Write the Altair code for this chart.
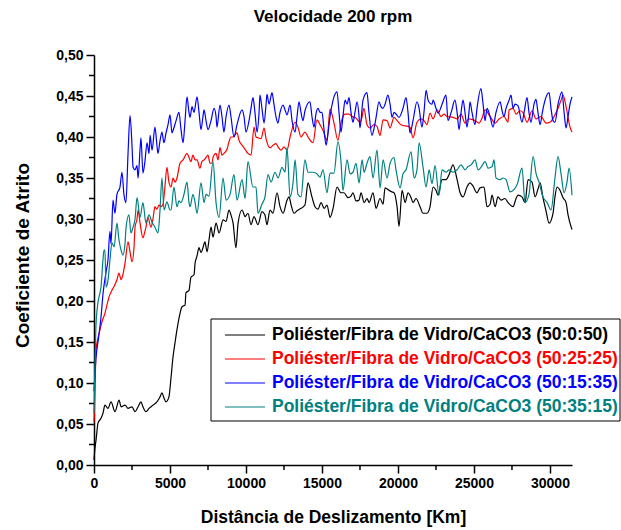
import altair as alt
import pandas as pd

FONT = "Liberation Sans"

title_text = "Velocidade 200 rpm"
x_title = "Distância de Deslizamento [Km]"
y_title = "Coeficiente de Atrito"

series_names = [
    "Poliéster/Fibra de Vidro/CaCO3 (50:0:50)",
    "Poliéster/Fibra de Vidro/CaCO3 (50:25:25)",
    "Poliéster/Fibra de Vidro/CaCO3 (50:15:35)",
    "Poliéster/Fibra de Vidro/CaCO3 (50:35:15)",
]
series_colors = ["#000000", "#ff0000", "#0000ff", "#008080"]

x_ticks = [0, 5000, 10000, 15000, 20000, 25000, 30000]
x_minor = [2500, 7500, 12500, 17500, 22500, 27500]
y_ticks = [0.0, 0.05, 0.10, 0.15, 0.20, 0.25, 0.30, 0.35, 0.40, 0.45, 0.50]
y_minor = [0.025, 0.075, 0.125, 0.175, 0.225, 0.275, 0.325, 0.375, 0.425, 0.475]

black_pts = [
    (0, 0.006), (66, 0.021), (132, 0.03), (263, 0.051), (461, 0.057), (590, 0.063), (720, 0.073),
    (920, 0.069), (1120, 0.077), (1380, 0.065), (1650, 0.079), (1780, 0.071), (2040, 0.073),
    (2240, 0.069), (2500, 0.071), (2700, 0.065), (2900, 0.071), (3090, 0.077), (3220, 0.071),
    (3420, 0.065), (3620, 0.069), (3880, 0.073), (4140, 0.077), (4340, 0.083), (4470, 0.088),
    (4600, 0.082), (4740, 0.077), (4930, 0.083), (5070, 0.107), (5200, 0.132), (5330, 0.149),
    (5460, 0.165), (5660, 0.185), (5790, 0.193), (5990, 0.195), (6050, 0.21), (6250, 0.213),
    (6380, 0.229), (6580, 0.232), (6650, 0.246), (6780, 0.255), (6910, 0.265), (7040, 0.259),
    (7170, 0.265), (7300, 0.272), (7440, 0.26), (7570, 0.275), (7700, 0.29), (7830, 0.278),
    (8030, 0.295), (8230, 0.283), (8490, 0.299), (8690, 0.297), (8880, 0.311), (9010, 0.305),
    (9150, 0.295), (9340, 0.265), (9480, 0.295), (9740, 0.311), (9940, 0.303), (10130, 0.307),
    (10330, 0.293), (10530, 0.303), (10790, 0.293), (11050, 0.309), (11250, 0.305), (11380, 0.293),
    (11580, 0.311), (11780, 0.307), (12040, 0.332), (12240, 0.315), (12440, 0.307), (12700, 0.323),
    (12830, 0.327), (12970, 0.317), (13160, 0.307), (13360, 0.31), (13620, 0.313), (13880, 0.317),
    (14080, 0.344), (14340, 0.327), (14540, 0.315), (14740, 0.312), (14940, 0.32), (15140, 0.313),
    (15330, 0.317), (15530, 0.302), (15730, 0.313), (15990, 0.339), (16250, 0.332), (16450, 0.332),
    (16710, 0.326), (16910, 0.328), (17040, 0.332), (17240, 0.322), (17440, 0.323), (17570, 0.332),
    (17770, 0.32), (17970, 0.325), (18100, 0.32), (18360, 0.332), (18560, 0.313), (18820, 0.325),
    (19020, 0.318), (19150, 0.338), (19410, 0.335), (19610, 0.333), (19740, 0.332), (19940, 0.315),
    (20070, 0.291), (20270, 0.335), (20470, 0.32), (20660, 0.332), (20860, 0.326), (20990, 0.32),
    (21190, 0.325), (21450, 0.315), (21650, 0.307), (21910, 0.307), (22110, 0.315), (22310, 0.339),
    (22500, 0.335), (22640, 0.329), (22900, 0.348), (23160, 0.348), (23360, 0.354), (23620, 0.366),
    (23890, 0.348), (24090, 0.332), (24280, 0.327), (24540, 0.339), (24740, 0.344), (24940, 0.34),
    (25200, 0.332), (25400, 0.338), (25660, 0.339), (25860, 0.315), (26060, 0.318), (26190, 0.329),
    (26390, 0.315), (26580, 0.327), (26780, 0.323), (27040, 0.325), (27240, 0.32), (27570, 0.315),
    (27770, 0.325), (27900, 0.329), (28160, 0.327), (28360, 0.32), (28560, 0.348), (28820, 0.345),
    (29020, 0.327), (29220, 0.337), (29350, 0.344), (29540, 0.326), (29740, 0.31), (29940, 0.295),
    (30200, 0.307), (30330, 0.327), (30470, 0.339), (30660, 0.335), (30860, 0.326), (31060, 0.32),
    (31190, 0.305), (31450, 0.287),
]

red_pts = [
    (0, 0.052), (66, 0.09), (132, 0.14), (263, 0.155), (395, 0.165), (530, 0.175), (720, 0.185),
    (850, 0.195), (990, 0.205), (1180, 0.213), (1380, 0.22), (1510, 0.226), (1640, 0.234),
    (1780, 0.226), (1900, 0.232), (2040, 0.246), (2240, 0.272), (2370, 0.26), (2500, 0.248),
    (2630, 0.265), (2700, 0.29), (2830, 0.3), (2900, 0.311), (3030, 0.295), (3220, 0.277),
    (3350, 0.285), (3420, 0.29), (3550, 0.302), (3750, 0.29), (3880, 0.3), (4010, 0.315),
    (4140, 0.312), (4280, 0.317), (4400, 0.315), (4540, 0.318), (4670, 0.34), (4800, 0.363),
    (4930, 0.345), (5070, 0.339), (5200, 0.35), (5330, 0.345), (5460, 0.35), (5660, 0.368),
    (5860, 0.372), (6120, 0.38), (6250, 0.375), (6380, 0.37), (6510, 0.378), (6650, 0.372),
    (6780, 0.372), (6970, 0.362), (7100, 0.37), (7240, 0.372), (7370, 0.375), (7500, 0.378),
    (7630, 0.368), (7760, 0.368), (7830, 0.375), (8030, 0.38), (8160, 0.372), (8290, 0.387),
    (8420, 0.378), (8550, 0.38), (8750, 0.385), (8880, 0.394), (9010, 0.4), (9140, 0.4),
    (9410, 0.405), (9540, 0.396), (9740, 0.39), (9940, 0.385), (10130, 0.38), (10330, 0.378),
    (10530, 0.412), (10660, 0.4), (10790, 0.399), (10990, 0.398), (11190, 0.411), (11320, 0.398),
    (11580, 0.387), (11780, 0.39), (11970, 0.392), (12110, 0.388), (12310, 0.384), (12500, 0.388),
    (12700, 0.384), (12900, 0.4), (13230, 0.418), (13420, 0.412), (13620, 0.4), (13880, 0.406),
    (14080, 0.4), (14410, 0.393), (14670, 0.421), (14870, 0.415), (15070, 0.408), (15330, 0.396),
    (15530, 0.434), (15790, 0.417), (16050, 0.396), (16250, 0.417), (16520, 0.428), (16780, 0.428),
    (16980, 0.425), (17240, 0.423), (17370, 0.42), (17500, 0.418), (17630, 0.424), (17760, 0.435),
    (17960, 0.415), (18160, 0.411), (18420, 0.415), (18620, 0.413), (18820, 0.402), (19020, 0.421),
    (19280, 0.42), (19480, 0.411), (19740, 0.424), (19940, 0.42), (20200, 0.415), (20790, 0.412),
    (20990, 0.399), (21250, 0.418), (21510, 0.422), (21710, 0.42), (21910, 0.415), (22110, 0.429),
    (22310, 0.422), (22570, 0.433), (22830, 0.425), (23030, 0.428), (23230, 0.425), (23620, 0.424),
    (23890, 0.422), (24150, 0.428), (24410, 0.417), (24670, 0.422), (25070, 0.42), (25330, 0.417),
    (25530, 0.423), (25730, 0.433), (26060, 0.425), (26390, 0.417), (26650, 0.422), (26980, 0.425),
    (27240, 0.418), (27310, 0.433), (27570, 0.435), (27770, 0.428), (28030, 0.432), (28220, 0.43),
    (28490, 0.418), (28820, 0.432), (29080, 0.422), (29410, 0.425), (29740, 0.417), (30000, 0.418),
    (30270, 0.425), (30530, 0.435), (30730, 0.445), (30860, 0.451), (31060, 0.437), (31320, 0.412),
    (31450, 0.406),
]

blue_pts = [
    (0, 0.09), (130, 0.13), (300, 0.155), (460, 0.18), (600, 0.21), (790, 0.235), (920, 0.25),
    (1050, 0.285), (1120, 0.27), (1250, 0.323), (1380, 0.307), (1510, 0.33), (1710, 0.339),
    (1840, 0.357), (1970, 0.33), (2100, 0.32), (2240, 0.38), (2370, 0.426), (2500, 0.39),
    (2570, 0.363), (2700, 0.36), (2830, 0.365), (2900, 0.35), (3030, 0.385), (3090, 0.399),
    (3220, 0.356), (3350, 0.37), (3490, 0.393), (3620, 0.38), (3690, 0.402), (3820, 0.384),
    (4010, 0.412), (4140, 0.39), (4210, 0.38), (4340, 0.395), (4470, 0.406), (4600, 0.393),
    (4740, 0.405), (4870, 0.415), (5000, 0.427), (5130, 0.405), (5200, 0.408), (5400, 0.42),
    (5590, 0.43), (5720, 0.41), (5860, 0.393), (5990, 0.42), (6120, 0.449), (6250, 0.43),
    (6320, 0.424), (6450, 0.437), (6580, 0.43), (6780, 0.449), (6910, 0.43), (7040, 0.409),
    (7170, 0.425), (7240, 0.433), (7370, 0.42), (7500, 0.409), (7700, 0.42), (7900, 0.435),
    (8030, 0.425), (8090, 0.412), (8290, 0.439), (8420, 0.425), (8550, 0.406), (8690, 0.425),
    (8880, 0.439), (9010, 0.425), (9210, 0.4), (9410, 0.415), (9740, 0.433), (9870, 0.425),
    (10000, 0.406), (10200, 0.42), (10330, 0.435), (10460, 0.448), (10590, 0.43), (10730, 0.406),
    (10860, 0.43), (10920, 0.451), (11050, 0.435), (11190, 0.417), (11320, 0.44), (11380, 0.452),
    (11520, 0.44), (11710, 0.454), (11840, 0.44), (11970, 0.425), (12100, 0.417), (12240, 0.43),
    (12440, 0.439), (12570, 0.433), (12700, 0.427), (12900, 0.439), (13030, 0.42), (13230, 0.406),
    (13360, 0.425), (13490, 0.443), (13620, 0.43), (13750, 0.42), (13880, 0.432), (14210, 0.443),
    (14340, 0.425), (14480, 0.412), (14600, 0.428), (14740, 0.435), (14870, 0.43), (15000, 0.43),
    (15130, 0.41), (15270, 0.39), (15400, 0.405), (15530, 0.425), (15730, 0.445), (15990, 0.455),
    (16120, 0.43), (16250, 0.406), (16380, 0.425), (16520, 0.445), (16650, 0.44), (16780, 0.448),
    (16910, 0.43), (17040, 0.418), (17170, 0.43), (17310, 0.443), (17440, 0.425), (17500, 0.411),
    (17700, 0.445), (17960, 0.454), (18090, 0.43), (18290, 0.402), (18420, 0.41), (18560, 0.424),
    (18750, 0.443), (18880, 0.437), (19010, 0.435), (19150, 0.44), (19340, 0.451), (19480, 0.44),
    (19610, 0.424), (19740, 0.43), (19870, 0.428), (20070, 0.424), (20330, 0.435), (20530, 0.448),
    (20660, 0.43), (20790, 0.405), (20990, 0.42), (21250, 0.443), (21390, 0.435), (21580, 0.412),
    (21710, 0.43), (21850, 0.457), (21980, 0.445), (22110, 0.441), (22240, 0.44), (22310, 0.445),
    (22500, 0.435), (22640, 0.429), (22900, 0.44), (23160, 0.451), (23290, 0.42), (23500, 0.43),
    (23750, 0.445), (23890, 0.43), (24020, 0.409), (24150, 0.43), (24280, 0.445), (24410, 0.43),
    (24540, 0.412), (24670, 0.43), (24740, 0.443), (24870, 0.43), (25070, 0.415), (25200, 0.435),
    (25460, 0.459), (25600, 0.44), (25730, 0.42), (25860, 0.435), (26060, 0.425), (26250, 0.412),
    (26450, 0.43), (26720, 0.443), (26850, 0.432), (26980, 0.425), (27110, 0.435), (27310, 0.445),
    (27440, 0.451), (27570, 0.435), (27700, 0.44), (27900, 0.438), (28160, 0.418), (28300, 0.43),
    (28490, 0.448), (28620, 0.43), (28750, 0.418), (28950, 0.44), (29080, 0.446), (29210, 0.43),
    (29350, 0.415), (29480, 0.428), (29610, 0.44), (29940, 0.454), (30070, 0.435), (30200, 0.42),
    (30330, 0.418), (30530, 0.44), (30790, 0.455), (30930, 0.43), (31060, 0.411), (31190, 0.425),
    (31320, 0.44), (31450, 0.449),
]

teal_pts = [
    (0, 0.063), (66, 0.124), (130, 0.17), (260, 0.198), (395, 0.21), (460, 0.217), (590, 0.25),
    (660, 0.262), (720, 0.262), (790, 0.217), (920, 0.225), (1050, 0.25), (1180, 0.271),
    (1320, 0.266), (1510, 0.295), (1640, 0.275), (1780, 0.262), (1900, 0.256), (2040, 0.27),
    (2110, 0.29), (2300, 0.305), (2430, 0.283), (2570, 0.29), (2700, 0.3), (2830, 0.326),
    (3030, 0.302), (3220, 0.32), (3420, 0.295), (3620, 0.305), (3820, 0.296), (4010, 0.29),
    (4210, 0.283), (4340, 0.31), (4470, 0.35), (4610, 0.311), (4800, 0.321), (5000, 0.311),
    (5070, 0.311), (5260, 0.339), (5460, 0.315), (5590, 0.322), (5720, 0.32), (5920, 0.33),
    (6120, 0.345), (6250, 0.32), (6320, 0.315), (6510, 0.33), (6650, 0.32), (6780, 0.307),
    (7040, 0.344), (7240, 0.32), (7370, 0.33), (7570, 0.328), (7830, 0.37), (8030, 0.32),
    (8230, 0.302), (8490, 0.35), (8690, 0.323), (8950, 0.33), (9210, 0.354), (9410, 0.323),
    (9740, 0.348), (9940, 0.325), (10130, 0.37), (10460, 0.339), (10660, 0.339), (10790, 0.307),
    (11050, 0.318), (11250, 0.327), (11450, 0.354), (11650, 0.345), (11910, 0.357), (12110, 0.35),
    (12370, 0.363), (12570, 0.357), (12700, 0.387), (12900, 0.327), (13100, 0.345), (13230, 0.372),
    (13420, 0.33), (13620, 0.327), (13880, 0.372), (14080, 0.357), (14410, 0.357), (14670, 0.355),
    (14870, 0.351), (15070, 0.36), (15330, 0.332), (15530, 0.356), (15790, 0.356), (16050, 0.394),
    (16250, 0.37), (16380, 0.335), (16650, 0.372), (16850, 0.355), (17040, 0.357), (17240, 0.368),
    (17440, 0.344), (17640, 0.372), (17770, 0.357), (17960, 0.368), (18160, 0.376), (18360, 0.35),
    (18620, 0.384), (18820, 0.338), (19020, 0.372), (19280, 0.35), (19480, 0.368), (19740, 0.375),
    (19870, 0.36), (20140, 0.338), (20330, 0.355), (20530, 0.36), (20860, 0.382), (21060, 0.35),
    (21250, 0.36), (21390, 0.393), (21650, 0.363), (21850, 0.339), (22050, 0.36), (22240, 0.343),
    (22440, 0.365), (22700, 0.329), (22900, 0.36), (23160, 0.357), (23360, 0.36), (23620, 0.357),
    (23890, 0.36), (24150, 0.366), (24410, 0.36), (24610, 0.364), (24810, 0.366), (25070, 0.372),
    (25270, 0.36), (25460, 0.363), (25730, 0.37), (25930, 0.362), (26190, 0.364), (26320, 0.372),
    (26450, 0.35), (26720, 0.348), (26920, 0.35), (27110, 0.348), (27370, 0.333), (27640, 0.336),
    (27840, 0.342), (28160, 0.362), (28360, 0.32), (28620, 0.33), (28890, 0.376), (29090, 0.355),
    (29280, 0.345), (29540, 0.327), (29810, 0.32), (30070, 0.311), (30330, 0.35), (30530, 0.376),
    (30730, 0.355), (30930, 0.332), (31120, 0.345), (31260, 0.362), (31450, 0.329),
]

all_series = [black_pts, red_pts, blue_pts, teal_pts]

W, H = 478, 410

x_scale = alt.Scale(domain=[0, 31450], nice=False, zero=False)
y_scale = alt.Scale(domain=[0, 0.5], nice=False, zero=False)

common_axis = dict(
    labelFont=FONT, labelFontSize=14, labelFontWeight="bold", labelColor="black",
    titleFont=FONT, titleFontWeight="bold", titleColor="black",
    domainColor="black", domainWidth=1.5, tickColor="black", tickWidth=1.5,
    tickSize=8, grid=False,
)

x_axis = alt.Axis(
    values=x_ticks, format="d", title=x_title, titleFontSize=17.5,
    labelPadding=3, labelFlush=False, titleY=52, titleBaseline="middle",
    **common_axis,
)
y_axis = alt.Axis(
    values=y_ticks, title=y_title, titleFontSize=19,
    labelExpr="replace(format(datum.value, '.2f'), '.', ',')",
    labelPadding=3, titleX=-72, titleY=200, titleBaseline="middle",
    **common_axis,
)

layers = []

# minor ticks (drawn with the same scales, no own axes)
y_minor_layer = alt.Chart(pd.DataFrame({"y": y_minor})).mark_rule(color="black", strokeWidth=1.5).encode(
    y=alt.Y("y:Q", scale=y_scale, axis=y_axis), x=alt.value(-5), x2=alt.value(0)
)
x_minor_layer = alt.Chart(pd.DataFrame({"x": x_minor})).mark_rule(color="black", strokeWidth=1.5).encode(
    x=alt.X("x:Q", scale=x_scale, axis=x_axis), y=alt.value(H), y2=alt.value(H + 5)
)

for i, (pts, name, color) in enumerate(zip(all_series, series_names, series_colors)):
    df = pd.DataFrame(pts, columns=["x", "y"])
    df["serie"] = name
    layers.append(
        alt.Chart(df).mark_line(color=color, strokeWidth=1.2, interpolate="monotone").encode(
            x=alt.X("x:Q", scale=x_scale, axis=x_axis),
            y=alt.Y("y:Q", scale=y_scale, axis=y_axis),
        )
    )

layers += [y_minor_layer, x_minor_layer]

# legend box
one = pd.DataFrame({"k": [0]})
layers.append(
    alt.Chart(one).mark_rect(fill="white", stroke="black", strokeWidth=1).encode(
        x=alt.value(117), x2=alt.value(526), y=alt.value(264), y2=alt.value(366)
    )
)
for i, (name, color) in enumerate(zip(series_names, series_colors)):
    ypos = 280 + 24 * i
    layers.append(
        alt.Chart(one).mark_rule(color=color, strokeWidth=1.2).encode(
            x=alt.value(131), x2=alt.value(171), y=alt.value(ypos)
        )
    )
    layers.append(
        alt.Chart(one).mark_text(
            align="left", baseline="middle", font=FONT, fontSize=17.5,
            fontWeight="bold", color=color,
        ).encode(x=alt.value(178), y=alt.value(ypos), text=alt.value(name))
    )

chart = alt.layer(*layers).properties(
    width=W, height=H,
    background="white",
    title=alt.Title(title_text, font=FONT, fontSize=17, fontWeight="bold",
                    color="black", anchor="middle", offset=22),
    autosize=alt.AutoSizeParams(type="none"),
    padding={"left": 94, "top": 55, "right": 49, "bottom": 65},
).configure_view(stroke=None)

chart.save("out.html", embed_options={"renderer": "svg", "actions": False})
